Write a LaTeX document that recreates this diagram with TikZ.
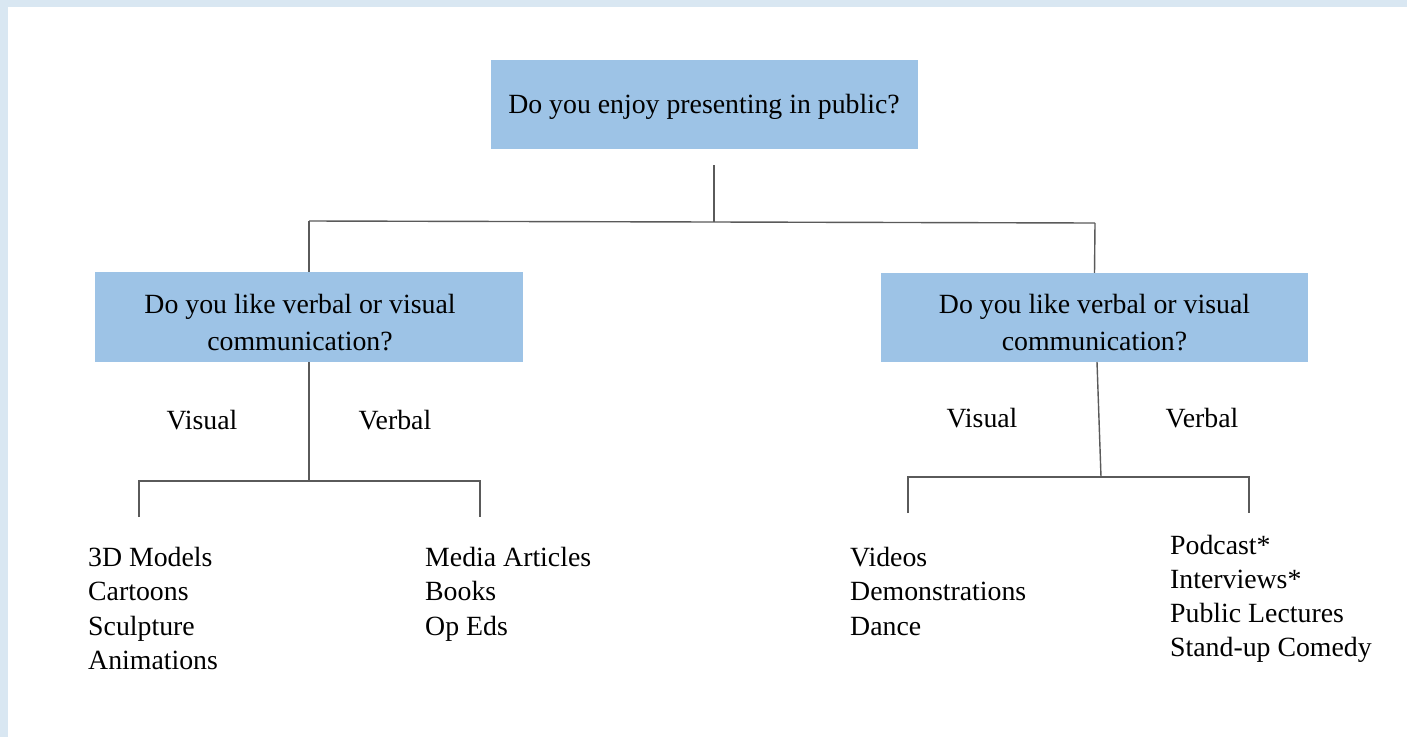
\documentclass[tikz,border=0pt]{standalone}
\usepackage{fontspec}
\setmainfont{Liberation Serif}
\definecolor{boxblue}{HTML}{9DC3E6}
\definecolor{edgeblue}{HTML}{D9E7F2}
\definecolor{linegray}{HTML}{5A5A5A}
\begin{document}
\begin{tikzpicture}[x=1pt,y=-1pt,
  qbox/.style={fill=boxblue,draw=none,rectangle,inner sep=0pt},
  qtext/.style={inner sep=0pt,align=center,font=\fontsize{27.8}{37}\selectfont},
  lbl/.style={inner sep=0pt,anchor=base,font=\fontsize{27.8}{33}\selectfont},
  item/.style={inner sep=0pt,anchor=base west,font=\fontsize{27.8}{33}\selectfont},
  conn/.style={draw=linegray,line width=1.4pt}]
\fill[edgeblue] (0,0) rectangle (1407,737);
\fill[white] (8,7) rectangle (1407,737);
\useasboundingbox (0,0) rectangle (1407,737);

% question boxes
\node[qbox,minimum width=427pt,minimum height=89pt] (top) at (704.5,104.5) {};
\node[qbox,minimum width=428pt,minimum height=90pt] (lbox) at (309,317) {};
\node[qbox,minimum width=427pt,minimum height=89pt] (rbox) at (1094.5,317.5) {};
\node[qtext] (toptext) at (704,107) {Do you enjoy presenting in public?};
\node[qtext] (ltext) at (300,323) {Do you like verbal or visual\\communication?};
\node[qtext] (rtext) at (1094.5,323) {Do you like verbal or visual\\communication?};

% junction coordinates
\coordinate (t0) at (714,165);
\coordinate (j0) at (714,222);
\coordinate (jl) at (309,221);
\coordinate (jr) at (1095,223);
\coordinate (lj) at (309,481);
\coordinate (ll) at (139,481);
\coordinate (lr) at (480,481);
\coordinate (lls) at (139,517);
\coordinate (lrs) at (480,517);
\coordinate (rs) at (1097,362);
\coordinate (rj) at (1101,477);
\coordinate (rl) at (908,477);
\coordinate (rr) at (1249,477);
\coordinate (rls) at (908,513);
\coordinate (rrs) at (1249,513);

\draw[conn] (t0) -- (j0);
\draw[conn] (jl) -- (j0) -- (jr);
\draw[conn] (jl) -- (lbox.north);
\draw[conn] (jr) -- (rbox.north);
\draw[conn] (lbox.south) -- (lj);
\draw[conn] (lls) -- (ll) -- (lr) -- (lrs);
\draw[conn] (rs) -- (rj);
\draw[conn] (rls) -- (rl) -- (rr) -- (rrs);

% branch labels
\node[lbl] (lvis) at (202,429) {Visual};
\node[lbl] (lver) at (395,429) {Verbal};
\node[lbl] (rvis) at (982,427) {Visual};
\node[lbl] (rver) at (1202,427) {Verbal};

% lists
\node[item] (a1) at (88,566) {3D Models};
\node[item] (a2) at (88,600.5) {Cartoons};
\node[item] (a3) at (88,635) {Sculpture};
\node[item] (a4) at (88,669.5) {Animations};

\node[item] (b1) at (425,566) {Media Articles};
\node[item] (b2) at (425,600.5) {Books};
\node[item] (b3) at (425,635) {Op Eds};

\node[item] (c1) at (850,566) {Videos};
\node[item] (c2) at (850,600.5) {Demonstrations};
\node[item] (c3) at (850,635) {Dance};

\node[item] (d1) at (1170,554) {Podcast*};
\node[item] (d2) at (1170,588) {Interviews*};
\node[item] (d3) at (1170,622) {Public Lectures};
\node[item] (d4) at (1170,656) {Stand-up Comedy};
\end{tikzpicture}
\end{document}
